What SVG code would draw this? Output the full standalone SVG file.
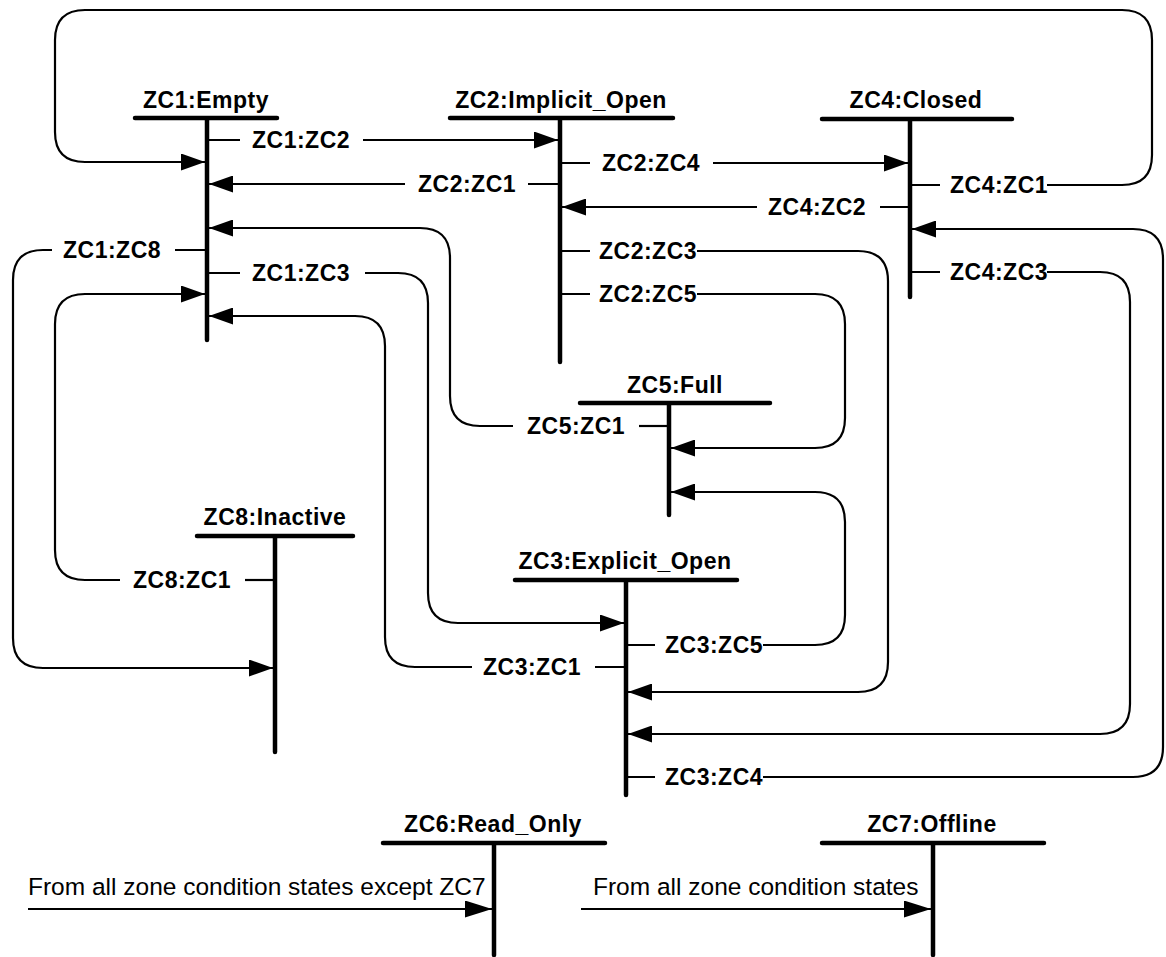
<svg xmlns="http://www.w3.org/2000/svg" width="1166" height="957" viewBox="0 0 1166 957">
<style>
.bar{stroke:#000;stroke-width:4.5;stroke-linecap:round;fill:none}
.c{stroke:#000;stroke-width:2.2;fill:none}
.t{stroke:#000;stroke-width:2.2;fill:none}
.title{font-family:"Liberation Sans",Arial,sans-serif;font-weight:bold;font-size:23px;letter-spacing:0.5px;text-anchor:middle;fill:#000}
.lbl{font-family:"Liberation Sans",Arial,sans-serif;font-weight:bold;font-size:23px;letter-spacing:0.5px;fill:#000}
.note{font-family:"Liberation Sans",Arial,sans-serif;font-size:24.5px;fill:#000}
</style>
<defs>
<marker id="ah" markerUnits="userSpaceOnUse" markerWidth="24" markerHeight="17" refX="24" refY="8.5" orient="auto" viewBox="0 0 24 17">
<path d="M0,0 L24,8.5 L0,17 z" fill="#000"/>
</marker>
<marker id="ahL" markerUnits="userSpaceOnUse" markerWidth="27" markerHeight="17" refX="27" refY="8.5" orient="auto" viewBox="0 0 27 17">
<path d="M0,0 L27,8.5 L0,17 z" fill="#000"/>
</marker>
</defs>
<rect width="1166" height="957" fill="#fff"/>

<g id="connectors">
<path class="c" marker-end="url(#ah)" d="M363,140 H558"/>
<path class="c" marker-end="url(#ah)" d="M405,184 H209"/>
<path class="c" marker-end="url(#ah)" d="M713,163 H908"/>
<path class="c" marker-end="url(#ah)" d="M757,207 H562"/>
<path class="c" marker-end="url(#ah)" d="M1047,185 H1122 Q1152,185 1152,155 V40 Q1152,10 1122,10 H85 Q55,10 55,40 V132 Q55,162 85,162 H205"/>
<path class="c" marker-end="url(#ah)" d="M52,250 H43 Q13,250 13,280 V638 Q13,668 43,668 H273"/>
<path class="c" marker-end="url(#ah)" d="M365,273 H398 Q428,273 428,303 V593 Q428,623 458,623 H624"/>
<path class="c" marker-end="url(#ah)" d="M120,580 H85 Q55,580 55,550 V324 Q55,294 85,294 H205"/>
<path class="c" marker-end="url(#ah)" d="M513,426 H480 Q450,426 450,396 V258 Q450,228 420,228 H209"/>
<path class="c" marker-end="url(#ah)" d="M472,667 H415 Q385,667 385,637 V346 Q385,316 355,316 H209"/>
<path class="c" marker-end="url(#ah)" d="M697,251 H858 Q888,251 888,281 V662 Q888,692 858,692 H628"/>
<path class="c" marker-end="url(#ah)" d="M697,294 H815 Q845,294 845,324 V418 Q845,448 815,448 H671"/>
<path class="c" marker-end="url(#ah)" d="M763,645 H815 Q845,645 845,615 V522 Q845,492 815,492 H671"/>
<path class="c" marker-end="url(#ah)" d="M1047,272 H1100 Q1130,272 1130,302 V704 Q1130,734 1100,734 H628"/>
<path class="c" marker-end="url(#ah)" d="M763,777 H1133 Q1163,777 1163,747 V259 Q1163,229 1133,229 H912"/>
<path class="c" marker-end="url(#ahL)" d="M28,909 H492"/>
<path class="c" marker-end="url(#ahL)" d="M581,909 H931"/>

<path class="t" d="M207,140 H240 M175,250 H207 M207,273 H240"/>
<path class="t" d="M528,184 H560 M560,163 H590 M560,251 H590 M560,294 H590"/>
<path class="t" d="M910,185 H940 M880,207 H910 M910,272 H940"/>
<path class="t" d="M639,426 H669"/>
<path class="t" d="M245,580 H275"/>
<path class="t" d="M626,645 H655 M595,667 H626 M626,777 H655"/>

<text class="lbl" x="252" y="148">ZC1:ZC2</text>
<text class="lbl" x="63" y="258">ZC1:ZC8</text>
<text class="lbl" x="252" y="281">ZC1:ZC3</text>
<text class="lbl" x="418" y="192">ZC2:ZC1</text>
<text class="lbl" x="602" y="171">ZC2:ZC4</text>
<text class="lbl" x="599" y="259">ZC2:ZC3</text>
<text class="lbl" x="599" y="302">ZC2:ZC5</text>
<text class="lbl" x="950" y="193">ZC4:ZC1</text>
<text class="lbl" x="768" y="215">ZC4:ZC2</text>
<text class="lbl" x="950" y="280">ZC4:ZC3</text>
<text class="lbl" x="527" y="434">ZC5:ZC1</text>
<text class="lbl" x="133" y="588">ZC8:ZC1</text>
<text class="lbl" x="665" y="653">ZC3:ZC5</text>
<text class="lbl" x="483" y="675">ZC3:ZC1</text>
<text class="lbl" x="665" y="785">ZC3:ZC4</text>
<text class="note" x="28" y="895">From all zone condition states except ZC7</text>
<text class="note" x="593" y="895">From all zone condition states</text>
</g>

<g id="ZC1">
<path class="bar" d="M135,118 H277 M207,118 V340"/>
<text class="title" x="206" y="108">ZC1:Empty</text>
</g>
<g id="ZC2">
<path class="bar" d="M450,118 H673 M560,118 V362"/>
<text class="title" x="561" y="108">ZC2:Implicit_Open</text>
</g>
<g id="ZC4">
<path class="bar" d="M822,119 H1012 M910,119 V297"/>
<text class="title" x="916" y="108">ZC4:Closed</text>
</g>
<g id="ZC5">
<path class="bar" d="M580,403 H770 M669,403 V515"/>
<text class="title" x="675" y="393">ZC5:Full</text>
</g>
<g id="ZC8">
<path class="bar" d="M197,536 H353 M275,536 V752"/>
<text class="title" x="275" y="525">ZC8:Inactive</text>
</g>
<g id="ZC3">
<path class="bar" d="M515,580 H737 M626,580 V795"/>
<text class="title" x="625" y="569">ZC3:Explicit_Open</text>
</g>
<g id="ZC6">
<path class="bar" d="M383,843 H605 M494,843 V955"/>
<text class="title" x="493" y="832">ZC6:Read_Only</text>
</g>
<g id="ZC7">
<path class="bar" d="M822,843 H1044 M933,843 V955"/>
<text class="title" x="932" y="832">ZC7:Offline</text>
</g>
</svg>
